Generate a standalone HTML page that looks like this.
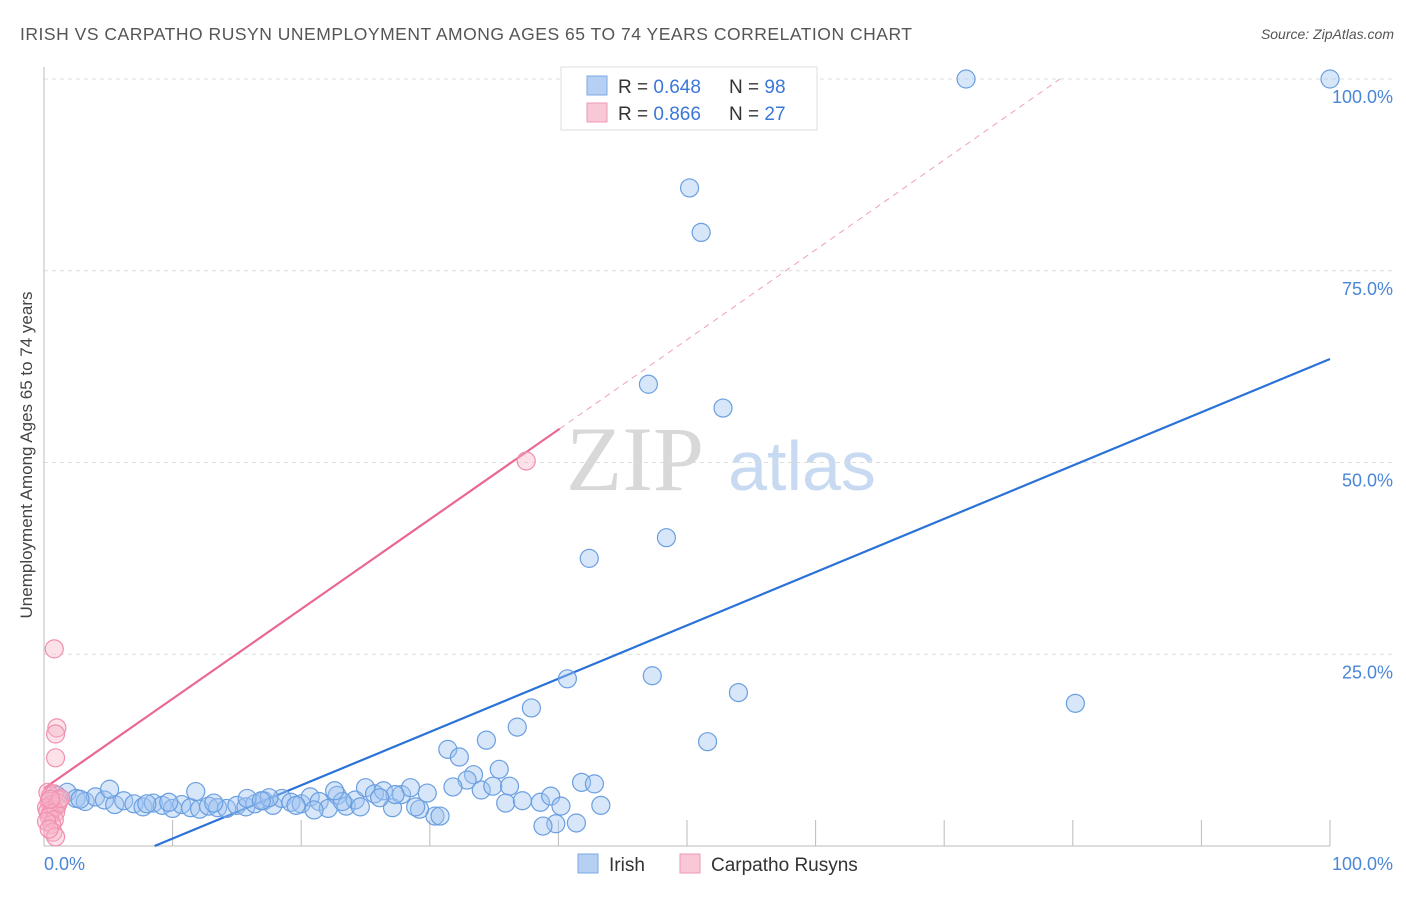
<!DOCTYPE html>
<html><head><meta charset="utf-8"><style>
body{margin:0;background:#fff;width:1406px;height:892px;overflow:hidden;font-family:"Liberation Sans",sans-serif;}
svg text{font-family:"Liberation Sans",sans-serif;}
</style></head><body>
<svg id="chart" width="1406" height="892">
<text x="20" y="40" font-size="17.5" fill="#555" textLength="892">IRISH VS CARPATHO RUSYN UNEMPLOYMENT AMONG AGES 65 TO 74 YEARS CORRELATION CHART</text>
<text x="1394" y="39" font-size="14" fill="#555" text-anchor="end" font-style="italic">Source: ZipAtlas.com</text>
<text x="32" y="455" font-size="17" fill="#444" text-anchor="middle" transform="rotate(-90 32 455)">Unemployment Among Ages 65 to 74 years</text>
<g>
<text x="635" y="490" font-size="92" fill="#d8d8d8" text-anchor="middle" font-family="Liberation Serif,serif" style="font-family:'Liberation Serif',serif">ZIP</text>
<text x="802" y="490" font-size="70" fill="#c8daf2" text-anchor="middle">atlas</text>
</g>
<g id="grid"></g><g id="axes"></g><g id="lines"></g><g id="pts"></g>
<g>
<rect x="561" y="67" width="256" height="63" fill="#fff" stroke="#ddd"/>
<rect x="587" y="76" width="20" height="19" fill="#b6d0f4" stroke="#7aa8e6"/>
<rect x="587" y="103" width="20" height="19" fill="#f9c8d6" stroke="#ee98b4"/>
<text x="618" y="93" font-size="19" fill="#333">R = <tspan fill="#3a78d8">0.648</tspan><tspan x="729">N = </tspan><tspan fill="#3a78d8">98</tspan></text>
<text x="618" y="120" font-size="19" fill="#333">R = <tspan fill="#3a78d8">0.866</tspan><tspan x="729">N = </tspan><tspan fill="#3a78d8">27</tspan></text>
</g>
<g>
<rect x="578" y="854" width="20" height="19" fill="#b6d0f4" stroke="#7aa8e6"/>
<text x="609" y="871" font-size="19" fill="#333">Irish</text>
<rect x="680" y="854" width="20" height="19" fill="#f9c8d6" stroke="#ee98b4"/>
<text x="711" y="871" font-size="19" fill="#333">Carpatho Rusyns</text>
</g>
</svg>
<script>
const yTicks=[25,50,75,100];
const yTickLabels=["25.0%","50.0%","75.0%","100.0%"];
const xTicks=[10,20,30,40,50,60,70,80,90,100];
const irishX=[71.7,100,50.2,51.1,47,52.8,48.4,42.4,40.7,47.3,54,80.2,51.6,37.9,36.8,34.4,31.4,32.3,35.4,33.4,32.9,31.8,34,34.9,36.2,41.8,42.8,35.9,37.2,38.6,39.4,40.2,43.3,41.4,39.8,38.8,30.4,30.8,
1,1.8,2.5,3.2,4,4.7,5.5,6.2,7,7.7,8.5,9.2,10,10.7,11.4,12.1,12.8,13.5,14.2,15,15.7,16.4,17.1,17.8,18.5,19.2,20,20.7,21.4,22.1,22.8,23.5,24.2,25,25.7,26.4,27.1,27.8,28.5,29.2,29.8,13.2,17.5,21,24.6,27.3,2.8,8,11.8,15.8,19.6,23.2,26.1,28.9,5.1,9.7,16.9,22.6];
const irishY=[100,100,85.8,80,60.2,57.1,40.2,37.5,21.8,22.2,20,18.6,13.6,18,15.5,13.8,12.6,11.6,10,9.3,8.6,7.7,7.3,7.8,7.8,8.3,8.1,5.6,5.9,5.7,6.5,5.2,5.3,3,2.9,2.6,3.9,3.9,
6.6,7,6.2,5.8,6.4,6,5.4,5.9,5.5,5.1,5.6,5.3,4.9,5.4,5,4.8,5.2,5,4.9,5.3,5.1,5.5,5.9,5.3,6.2,5.7,5.5,6.4,5.8,4.9,6.6,5.2,6,7.6,6.8,7.2,5,6.7,7.6,4.8,6.9,5.6,6.3,4.7,5.1,6.7,6.1,5.5,7.1,6.2,5.3,5.8,6.3,5.1,7.4,5.7,5.9,7.2,6.2];
const pinkX=[0.8,1,0.9,0.9,0.3,0.5,0.8,1.2,0.4,0.6,1,0.2,0.7,1.1,0.3,0.5,0.9,0.4,0.8,0.6,0.2,1.3,0.5,0.7,0.9,37.5,0.4];
const pinkY=[25.7,15.4,14.6,11.5,7,6.5,6.8,6,5.8,5.4,5.2,5,4.8,5.6,4.5,4.2,4.4,3.8,3.4,2.8,3.2,6.2,6.1,1.8,1.2,50.2,2.2];
const irishLine=[[8.6,0],[100,63.5]];
const pinkSolid=[[0,7.5],[40.1,54.4]];
const pinkDash=[[40.1,54.4],[79,100]];
const X=v=>44+v*12.86, Y=v=>846-v*7.67;
const NS="http://www.w3.org/2000/svg";
function mk(t,a,p){const e=document.createElementNS(NS,t);for(const k in a)e.setAttribute(k,a[k]);p.appendChild(e);return e;}
const grid=document.getElementById('grid'),axes=document.getElementById('axes'),lines=document.getElementById('lines'),pts=document.getElementById('pts');
yTicks.forEach((t,i)=>{
 const l=mk('line',{x1:44,x2:1395,y1:Y(t),y2:Y(t),stroke:'#ddd','stroke-dasharray':'4,4'},grid);
 
 
 const tx=mk('text',{x:1393,y:Y(t)+24,'font-size':18,fill:'#4a86d8','text-anchor':'end'},grid);
 tx.textContent=yTickLabels[i];
 
 
});
xTicks.forEach(t=>{
 const l=mk('line',{x1:X(t),x2:X(t),y1:820,y2:846,stroke:'#bbb'},axes);
 
 
});
const ya=mk('line',{x1:44,x2:44,y1:67,y2:846,stroke:'#bbb'},axes);


const xa=mk('line',{x1:44,x2:1330,y1:846,y2:846,stroke:'#bbb'},axes);


const xl0=mk('text',{x:44,y:870,'font-size':18,fill:'#4a86d8'},axes);xl0.textContent='0.0%';


const xl1=mk('text',{x:1393,y:870,'font-size':18,fill:'#4a86d8','text-anchor':'end'},axes);xl1.textContent='100.0%';


irishX.forEach((v,i)=>{
 const c=mk('circle',{cx:X(v),cy:Y(irishY[i]),r:9,fill:'rgba(160,196,240,0.42)',stroke:'#6a9fe0','stroke-width':1.2},pts);
 
 
});
pinkX.forEach((v,i)=>{
 const c=mk('circle',{cx:X(v),cy:Y(pinkY[i]),r:9,fill:'rgba(248,180,200,0.4)',stroke:'#f090b0','stroke-width':1.2},pts);
 
 
});
const bl=mk('line',{x1:X(irishLine[0][0]),y1:Y(irishLine[0][1]),x2:X(irishLine[1][0]),y2:Y(irishLine[1][1]),stroke:'#2a72d8','stroke-width':2.2},lines);


const pl=mk('line',{x1:X(pinkSolid[0][0]),y1:Y(pinkSolid[0][1]),x2:X(pinkSolid[1][0]),y2:Y(pinkSolid[1][1]),stroke:'#ea6890','stroke-width':2.2},lines);


const pd=mk('line',{x1:X(pinkDash[0][0]),y1:Y(pinkDash[0][1]),x2:X(pinkDash[1][0]),y2:Y(pinkDash[1][1]),stroke:'#f0a0b8','stroke-width':1,'stroke-dasharray':'6,5'},lines);


</script>
</body></html>
